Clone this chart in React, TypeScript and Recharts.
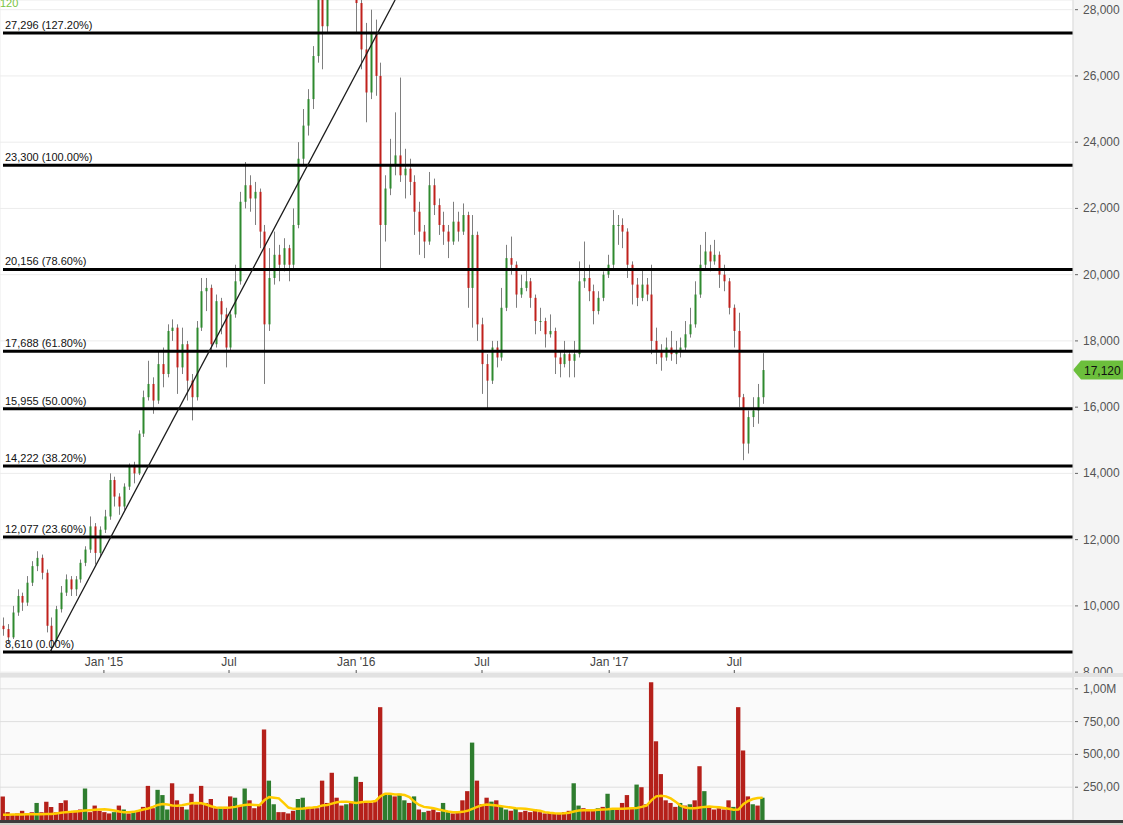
import React from 'react';
import { ComposedChart, Bar, Line, XAxis, YAxis, CartesianGrid, ReferenceLine, Cell } from 'recharts';

const FONT = '"Liberation Sans", Arial, Helvetica, sans-serif';
const DAY = 86400000;
const FIRST_WEEK = Date.UTC(2014, 7, 8);
const X_MIN = Date.UTC(2014, 7, 3, 16);
const X_MAX = Date.UTC(2018, 10, 3);
const PRICE_MIN = 7974;
const PRICE_MAX = 28292;
const VOL_MAX = 1090000;

// weekly OHLC
const opens = [9400,9300,9050,9800,10300,10100,10700,11200,11450,11000,9400,8950,9900,10400,10800,10500,10800,11300,11700,12400,11600,12300,12700,13800,13300,13000,13600,14200,14000,15200,16300,16700,16200,17300,17000,18300,18400,17200,17900,16800,16300,18400,19500,19600,17900,19200,18800,17800,18800,19800,22200,22700,22300,22500,21300,18500,19900,20600,20300,20800,20300,21500,23500,24500,25300,26600,28400,27500,29000,29500,30000,29700,30300,29600,28200,26800,25500,27300,26000,21500,22600,23300,23600,23000,23200,22800,21900,21300,21000,22700,22100,21500,21300,21000,21600,21300,21800,19600,21200,18500,17300,16800,17800,17500,19000,20500,20300,19400,19600,19800,19300,18600,18600,18200,18300,17500,17300,17600,17400,17600,19800,19900,19500,18900,19300,20000,20300,21500,21500,21300,20300,19700,19300,19700,19400,18000,17700,17500,17800,17600,17700,17800,18200,18500,19400,20300,20700,20400,20600,20000,19800,19000,18300,16300,14900,15700,15900,16300];
const highs = [9650,9450,10000,10500,10400,10900,11350,11650,11550,11100,9650,10000,10600,10950,10900,10900,11400,11800,12700,12500,12400,12900,14000,13900,13400,13700,14300,14350,15300,16500,17400,16900,17700,17800,18500,18650,18500,18400,18000,17000,18600,19900,19900,19700,19400,19300,19000,18900,20300,22500,23400,23000,22800,22600,21500,20800,21300,20900,21100,20900,22000,24000,25000,25600,26900,28600,28800,29300,29800,30300,30500,30600,30500,30000,28500,27600,28000,27700,26400,23000,24100,24900,25950,23800,23500,23000,22200,21500,23100,22900,22300,21900,21500,22200,21900,22150,21900,21800,21300,18700,17600,18000,18000,19600,20900,21150,20400,20000,20200,19900,19400,19000,18700,18800,18400,17700,18000,17700,18000,20400,21000,20300,19700,19500,20100,20600,21950,21800,21700,21400,20400,19900,20200,19900,20300,18400,17900,18100,18300,18000,18100,18600,19000,19800,20900,21290,20900,21050,20700,20300,19900,19100,18850,16400,15900,16300,16700,17630];
const lows = [9100,8850,9000,9700,9850,10000,10600,11050,10800,9200,8610,8900,9800,10300,10300,10300,10700,11200,11600,11250,11500,12200,12600,13000,12750,12900,13500,13700,13950,15100,16200,15800,16100,16600,16900,18000,16400,17000,16200,15600,16200,18300,18900,17700,17800,18200,17200,17700,18700,19700,22000,21900,21500,20800,16700,18300,19700,19800,20100,19800,20200,21400,23300,24200,25000,26400,26200,27300,28700,29100,29300,29400,29200,27300,26200,24600,25300,25400,20200,21000,22400,23000,22800,22300,22400,21200,20600,20500,20900,21800,21200,20900,20500,20900,21000,21200,19000,18400,18000,16400,15950,16700,17200,17400,18900,20000,19000,19300,19500,19000,18200,18300,17800,18100,17000,16900,17200,16900,16900,17500,19600,19200,18500,18800,19200,19900,20200,20900,20800,19900,19100,19050,19200,19200,17600,17300,17100,17400,17400,17300,17500,17700,18100,18400,19300,20200,20100,20300,19600,19500,18800,17800,16000,14400,14600,15400,15500,16100];
const closes = [9300,9050,9800,10300,10100,10700,11200,11450,11000,9400,8950,9900,10400,10800,10500,10800,11300,11700,12400,11600,12300,12700,13800,13300,13000,13600,14200,14000,15200,16300,16700,16200,17300,17000,18300,18400,17200,17900,16800,16300,18400,19500,19600,17900,19200,18800,17800,18800,19800,22200,22700,22300,22500,21300,18500,19900,20600,20300,20800,20300,21500,23500,24500,25300,26600,28400,27500,29000,29500,30000,29700,30300,29600,28200,26800,25500,27300,26000,21500,22600,23300,23600,23000,23200,22800,21900,21300,21000,22700,22100,21500,21300,21000,21600,21300,21800,19600,21200,18500,17300,16800,17800,17500,19000,20500,20300,19400,19600,19800,19300,18600,18600,18200,18300,17500,17300,17600,17400,17600,19800,19900,19500,18900,19300,20000,20300,21500,21500,21300,20300,19700,19300,19700,19400,18000,17700,17500,17800,17600,17700,17800,18200,18500,19400,20300,20700,20400,20600,20000,19800,19000,18300,16300,14900,15700,15900,16300,17120];

// weekly volume (thousands) and its moving average
const volumesK = [180,60,40,50,70,50,60,130,60,140,100,60,130,150,60,70,80,240,60,110,70,60,50,60,110,80,50,60,70,100,260,90,230,190,80,280,150,100,80,200,120,260,130,160,90,100,100,180,170,110,240,150,90,110,690,300,120,60,60,50,70,160,170,100,90,90,300,130,360,170,110,120,140,330,290,140,130,150,860,200,190,180,200,150,130,180,80,60,70,80,60,130,60,50,60,150,220,590,300,120,170,140,150,100,80,70,90,60,70,60,80,60,50,60,50,50,60,70,280,110,90,80,70,90,100,200,90,80,130,190,90,270,250,120,1050,600,350,150,130,100,130,110,120,150,410,220,100,80,90,80,150,100,860,530,180,120,110,170];
const volumeMAK = [40,40,41,42,42,43,43,44,44,45,45,50,55,60,62,65,68,72,75,78,80,82,78,72,65,60,60,62,70,80,88,100,115,122,118,110,108,112,120,128,130,128,118,105,95,93,93,95,100,108,115,118,115,112,150,175,170,165,130,95,85,85,88,92,95,100,110,115,125,135,140,140,135,130,135,140,140,145,180,200,200,195,195,190,175,140,115,100,95,90,80,72,65,60,60,62,70,85,100,112,118,115,110,105,100,95,90,88,85,80,75,70,60,55,52,50,52,55,65,72,75,75,75,78,80,82,85,85,85,88,90,92,100,110,150,180,185,180,165,140,110,95,90,90,95,100,102,100,98,92,85,78,80,120,145,160,168,170];
const volumeGreenWeeks = [7,17,23,25,27,32,33,34,38,45,48,50,55,56,61,62,71,73,79,80,82,83,85,87,91,92,97,101,103,104,106,118,119,123,125,126,131,140,142,145,151,155,157];

const fibLevels = [27296, 23300, 20156, 17688, 15955, 14222, 12077, 8610];
const fibPercents = ['127.20%', '100.00%', '78.60%', '61.80%', '50.00%', '38.20%', '23.60%', '0.00%'];
const priceTicks = [8000, 10000, 12000, 14000, 16000, 18000, 20000, 22000, 24000, 26000, 28000];
const volTicks = [250000, 500000, 750000, 1000000];
const volTickLabels = ['250,00', '500,00', '750,00', '1,00M'];
const monthTicks = [Date.UTC(2015, 0, 1), Date.UTC(2015, 6, 1), Date.UTC(2016, 0, 1), Date.UTC(2016, 6, 1), Date.UTC(2017, 0, 1), Date.UTC(2017, 6, 1)];
const monthLabels = ["Jan '15", 'Jul', "Jan '16", 'Jul', "Jan '17", 'Jul'];
const lastPrice = 17120;
const trendStart = { t: Date.UTC(2014, 9, 15), v: 8610 };
const trendThrough = { t: Date.UTC(2016, 1, 1), v: 27296 };

const candles = opens.map((open, i) => ({
  t: FIRST_WEEK + i * 7 * DAY,
  open,
  high: highs[i],
  low: lows[i],
  close: closes[i],
  range: [lows[i], highs[i]],
  volume: volumesK[i] * 1000,
  volumeMA: volumeMAK[i] * 1000,
  volumeUp: volumeGreenWeeks.includes(i),
}));

const trendEndT = trendStart.t + ((PRICE_MAX - trendStart.v) / (trendThrough.v - trendStart.v)) * (trendThrough.t - trendStart.t);

const fmt = (v: number) => v.toLocaleString('en-US');

function Candle(props: any) {
  const { x, y, width, height, payload } = props;
  if (!payload || x == null || y == null) return null;
  const top = Math.min(y, y + height);
  const h = Math.abs(height);
  const { open, close, high, low } = payload;
  const span = high - low || 1;
  const toY = (v: number) => top + ((high - v) / span) * h;
  const px = Math.round(x + width / 2);
  const bTop = toY(Math.max(open, close));
  const bBot = toY(Math.min(open, close));
  const up = close >= open;
  return (
    <g>
      <line x1={px + 0.5} x2={px + 0.5} y1={top} y2={top + h} stroke="#7e7e7e" strokeWidth={1} />
      <rect x={px - 0.5} y={bTop} width={2} height={Math.max(1, bBot - bTop)} fill={up ? '#2f8a2f' : '#c0211c'} />
    </g>
  );
}

function MonthLabel(props: any) {
  const { viewBox, text } = props;
  if (!viewBox) return null;
  const x = viewBox.x;
  const bottom = viewBox.y + viewBox.height;
  return (
    <g>
      <line x1={x} x2={x} y1={bottom - 3} y2={bottom} stroke="#555" strokeWidth={1} />
      <text x={x} y={bottom - 7} textAnchor="middle" fontSize={12} fill="#444" fontFamily={FONT}>
        {text}
      </text>
    </g>
  );
}

function PriceTick(props: any) {
  const { x, y, payload } = props;
  return (
    <g>
      <line x1={x - 8} x2={x - 5} y1={y} y2={y} stroke="#666" strokeWidth={1} />
      <text x={x} y={y + 4} fontSize={12} fill="#555" fontFamily={FONT} textAnchor="start">
        {fmt(payload.value)}
      </text>
    </g>
  );
}

function VolTick(props: any) {
  const { x, y, payload } = props;
  const idx = volTicks.indexOf(payload.value);
  return (
    <g>
      <line x1={x - 8} x2={x - 5} y1={y} y2={y} stroke="#666" strokeWidth={1} />
      <text x={x} y={y + 4} fontSize={12} fill="#555" fontFamily={FONT} textAnchor="start">
        {idx >= 0 ? volTickLabels[idx] : ''}
      </text>
    </g>
  );
}

function FibLabel(props: any) {
  const { viewBox, text } = props;
  if (!viewBox) return null;
  return (
    <text x={viewBox.x + 2} y={viewBox.y - 4} fontSize={11} fill="#111" fontFamily={FONT}>
      {text}
    </text>
  );
}

function PriceTag(props: any) {
  const { viewBox } = props;
  if (!viewBox) return null;
  const x0 = viewBox.x + viewBox.width;
  const y0 = viewBox.y;
  return (
    <g>
      <polygon
        points={`${x0},${y0} ${x0 + 8},${y0 - 9.5} ${x0 + 52},${y0 - 9.5} ${x0 + 52},${y0 + 9.5} ${x0 + 8},${y0 + 9.5}`}
        fill="#6cbf3c"
      />
      <text x={x0 + 11} y={y0 + 4.5} fontSize={12} fill="#111" fontFamily={FONT}>
        {fmt(lastPrice)}
      </text>
    </g>
  );
}

export default function App() {
  return (
    <div style={{ position: 'absolute', left: 0, top: 0, width: 1123, height: 825, overflow: 'hidden', background: '#fff', fontFamily: FONT }}>
      <div style={{ position: 'absolute', left: 1073, top: 0, width: 50, height: 673, background: '#f4f4f4' }} />
      <div style={{ position: 'absolute', left: 0, top: 673, width: 1123, height: 4, background: '#e2e2e2' }} />
      <div style={{ position: 'absolute', left: 0, top: 677, width: 1073, height: 143, background: '#fafafa' }} />
      <div style={{ position: 'absolute', left: 1073, top: 677, width: 50, height: 143, background: '#f4f4f4' }} />
      <div style={{ position: 'absolute', left: 0, top: 820, width: 1123, height: 3, background: '#3c3c3c' }} />
      <div style={{ position: 'absolute', left: 0, top: 823, width: 1123, height: 2, background: '#d2d2ca' }} />

      <div style={{ position: 'absolute', left: 0, top: 0 }}>
        <ComposedChart width={1123} height={673} data={candles} margin={{ top: 0, right: 0, bottom: 0, left: 0 }}>
          <CartesianGrid stroke="#ececec" strokeWidth={1} />
          <XAxis
            dataKey="t"
            type="number"
            scale="linear"
            domain={[X_MIN, X_MAX]}
            allowDataOverflow
            ticks={monthTicks}
            interval={0}
            height={0}
            axisLine={false}
            tickLine={false}
            tick={false}
          />
          <YAxis
            orientation="right"
            width={50}
            type="number"
            domain={[PRICE_MIN, PRICE_MAX]}
            allowDataOverflow
            ticks={priceTicks}
            interval={0}
            tickLine={false}
            tickSize={5}
            tickMargin={5}
            axisLine={{ stroke: '#dcdcdc' }}
            tick={<PriceTick />}
          />
          <Bar dataKey="range" barSize={3} shape={<Candle />} isAnimationActive={false} />
          {fibLevels.map((lvl, i) => (
            <ReferenceLine
              key={lvl}
              segment={[{ x: FIRST_WEEK, y: lvl }, { x: X_MAX, y: lvl }]}
              stroke="#000"
              strokeWidth={3}
              label={<FibLabel text={`${fmt(lvl)} (${fibPercents[i]})`} />}
            />
          ))}
          <ReferenceLine
            segment={[{ x: trendStart.t, y: trendStart.v }, { x: trendEndT, y: PRICE_MAX }]}
            stroke="#1a1a1a"
            strokeWidth={1.3}
          />
          {monthTicks.map((t, i) => (
            <ReferenceLine key={t} x={t} stroke="none" label={<MonthLabel text={monthLabels[i]} />} />
          ))}
          <ReferenceLine y={lastPrice} stroke="none" label={<PriceTag />} />
        </ComposedChart>
      </div>

      <svg style={{ position: 'absolute', left: 0, top: 0 }} width={40} height={12}>
        <text x={0} y={7} fontSize={11} fill="#78c43e" fontFamily={FONT}>120</text>
      </svg>

      <div style={{ position: 'absolute', left: 0, top: 677 }}>
        <ComposedChart width={1123} height={143} data={candles} margin={{ top: 0, right: 0, bottom: 0, left: 0 }}>
          <CartesianGrid stroke="#dedede" strokeWidth={1} />
          <XAxis
            dataKey="t"
            type="number"
            scale="linear"
            domain={[X_MIN, X_MAX]}
            allowDataOverflow
            ticks={monthTicks}
            interval={0}
            height={0}
            axisLine={false}
            tickLine={false}
            tick={false}
          />
          <YAxis
            orientation="right"
            width={50}
            type="number"
            domain={[0, VOL_MAX]}
            allowDataOverflow
            ticks={volTicks}
            interval={0}
            tickLine={false}
            tickSize={5}
            tickMargin={5}
            axisLine={{ stroke: '#dcdcdc' }}
            tick={<VolTick />}
          />
          <Bar dataKey="volume" barSize={5} isAnimationActive={false}>
            {candles.map((c, i) => (
              <Cell key={i} fill={c.volumeUp ? '#2e7d2e' : '#b5201a'} />
            ))}
          </Bar>
          <Line dataKey="volumeMA" type="linear" stroke="#ffcc00" strokeWidth={2.5} dot={false} isAnimationActive={false} />
        </ComposedChart>
      </div>
    </div>
  );
}
